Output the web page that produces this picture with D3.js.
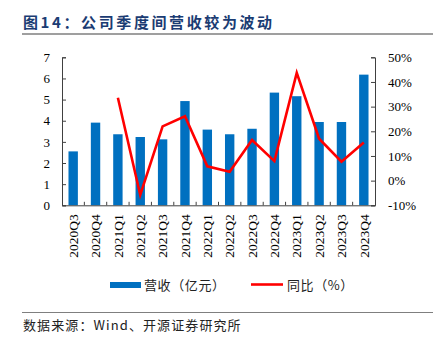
<!DOCTYPE html>
<html><head><meta charset="utf-8">
<script src="https://cdn.jsdelivr.net/npm/d3@7"></script>
<style>
body{margin:0;background:#fff;}
svg{display:block;}
</style></head>
<body>
<svg id="c" width="440" height="343"></svg>
<script>
const categories = ["2020Q3","2020Q4","2021Q1","2021Q2","2021Q3","2021Q4","2022Q1","2022Q2","2022Q3","2022Q4","2023Q1","2023Q2","2023Q3","2023Q4"];
const revenue = [2.55,3.91,3.36,3.23,3.12,4.93,3.58,3.36,3.62,5.33,5.16,3.94,3.94,6.18];
const yoy = [null,null,33.6,-5.8,22.0,26.1,5.8,3.6,16.5,7.9,43.7,17.0,7.7,15.5];
const leftTicks = [0,1,2,3,4,5,6,7];
const rightTicks = [-10,0,10,20,30,40,50];
const titleText = "图14：公司季度间营收较为波动";
const sourceText = "数据来源：Wind、开源证券研究所";
const legendLabels = ["营收（亿元）","同比（%）"];

const svg = d3.select("#c");
const L = 62, R = 375, T = 57.3, B = 205.3;
const serif = "'Liberation Serif','Times New Roman',serif";
const cjk = "'Noto Sans CJK SC','Liberation Serif',serif";

const x = d3.scaleBand().domain(categories).range([L,R]).paddingInner(0.58).paddingOuter(0.29);
const xb = d3.scaleBand().domain(categories).range([L,R]);
const yL = d3.scaleLinear().domain([0,7]).range([B,T]);
const yR = d3.scaleLinear().domain([-10,50]).range([B,T]);

// title
svg.append("text").attr("x",23).attr("y",28).text(titleText)
  .attr("font-family",cjk).attr("font-weight","bold").attr("font-size",15)
  .attr("letter-spacing","2.6px").attr("fill","#1b3c73");
svg.append("line").attr("x1",22).attr("x2",433).attr("y1",34).attr("y2",34)
  .attr("stroke","#7f7f7f").attr("stroke-width",1.5);

// bars
svg.append("g").selectAll("rect").data(revenue).join("rect")
  .attr("x",(d,i)=>x(categories[i])).attr("width",x.bandwidth())
  .attr("y",d=>yL(d)).attr("height",d=>yL(0)-yL(d))
  .attr("fill","#0070c0");

// axes
const axisColor = "#404040";
const gl = svg.append("g").attr("transform",`translate(${L},0)`)
  .call(d3.axisLeft(yL).tickValues(leftTicks).tickSize(-4).tickPadding(12).tickFormat(d3.format("d")));
const gr = svg.append("g").attr("transform",`translate(${R},0)`)
  .call(d3.axisRight(yR).tickValues(rightTicks).tickSize(-4).tickPadding(13).tickFormat(d=>d+"%"));
const gx = svg.append("g").attr("transform",`translate(0,${B})`)
  .call(d3.axisBottom(xb).tickSize(0).tickPadding(8));
[gl,gr].forEach(g=>{
  g.select(".domain").attr("stroke",axisColor);
  g.selectAll(".tick line").attr("stroke",axisColor);
  g.selectAll("text").attr("font-family",serif).attr("font-size",13).attr("fill","#000");
});
gx.select(".domain").attr("stroke",axisColor);
gx.selectAll(".tick text").attr("font-family",serif).attr("font-size",13.5).attr("fill","#000")
  .attr("transform","rotate(-90)").attr("text-anchor","end").attr("dy","0.35em").attr("x",-9).attr("y",0);
// boundary ticks (inward)
svg.append("g").selectAll("line").data(categories.slice(1)).join("line")
  .attr("x1",d=>xb(d)).attr("x2",d=>xb(d)).attr("y1",B).attr("y2",B-3.5)
  .attr("stroke",axisColor);

// line
const line = d3.line().defined(d=>d!=null)
  .x((d,i)=>xb(categories[i])+xb.bandwidth()/2).y(d=>yR(d));
svg.append("path").datum(yoy).attr("d",line).attr("fill","none")
  .attr("stroke","#ff0000").attr("stroke-width",2.6).attr("stroke-linejoin","miter");

// legend
svg.append("rect").attr("x",110).attr("y",282).attr("width",31).attr("height",6).attr("fill","#0070c0");
svg.append("text").attr("x",144).attr("y",289.5).text(legendLabels[0])
  .attr("font-family",cjk).attr("font-size",13).attr("letter-spacing","0.6px").attr("fill","#222");
svg.append("line").attr("x1",251).attr("x2",283).attr("y1",284.5).attr("y2",284.5)
  .attr("stroke","#ff0000").attr("stroke-width",2.6);
svg.append("text").attr("x",287).attr("y",289.5).text(legendLabels[1])
  .attr("font-family",cjk).attr("font-size",13).attr("letter-spacing","0.6px").attr("fill","#222");

// source
svg.append("line").attr("x1",22).attr("x2",433).attr("y1",312.5).attr("y2",312.5)
  .attr("stroke","#7f7f7f").attr("stroke-width",1.2);
svg.append("text").attr("x",23).attr("y",330).text(sourceText)
  .attr("font-family",cjk).attr("font-size",13).attr("letter-spacing","1.1px").attr("fill","#222");
</script>
</body></html>
